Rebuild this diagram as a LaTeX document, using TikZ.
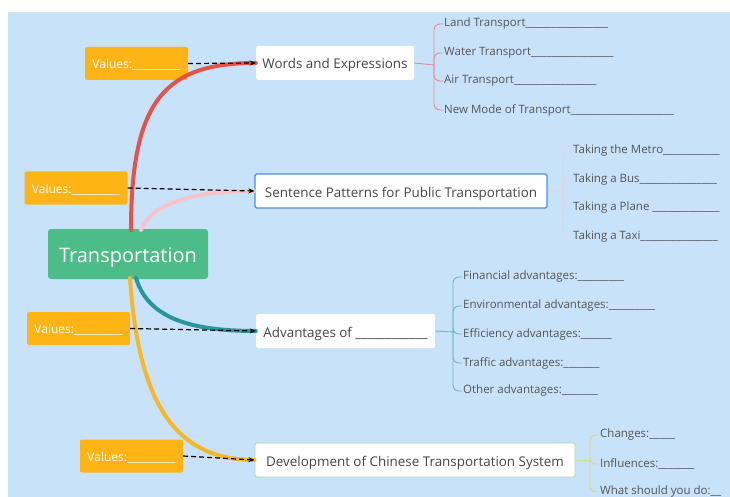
\documentclass[tikz,border=0pt]{standalone}
\usepackage{fontspec}
\setmainfont{Open Sans}
\usetikzlibrary{arrows.meta}
\definecolor{bgblue}{RGB}{200,226,249}
\definecolor{rootgreen}{RGB}{76,189,137}
\definecolor{valorange}{RGB}{255,180,22}
\definecolor{txtgray}{RGB}{70,70,70}
\definecolor{itemgray}{RGB}{85,85,85}
\definecolor{redbr}{RGB}{226,84,74}
\definecolor{pinkbr}{RGB}{246,196,200}
\definecolor{tealbr}{RGB}{40,150,155}
\definecolor{yelbr}{RGB}{246,184,40}
\definecolor{redsub}{RGB}{225,140,150}
\definecolor{pinksub}{RGB}{232,210,222}
\definecolor{tealsub}{RGB}{110,185,195}
\definecolor{yelsub}{RGB}{215,215,120}
\definecolor{boxblue}{RGB}{74,144,217}
\definecolor{boxgreen}{RGB}{170,215,160}
\begin{document}
\begin{tikzpicture}[x=1pt,y=-1pt,
  rootbox/.style={fill=rootgreen,rounded corners=3pt,minimum width=160pt,minimum height=50pt,inner sep=0pt,text=white,text height=17pt,text depth=0pt,font=\fontsize{20}{24}\selectfont},
  valbox/.style={fill=valorange,rounded corners=2pt,minimum width=103pt,minimum height=33pt,inner sep=0pt,text=white,text height=10.6pt,text depth=0pt,font=\fontsize{12}{14}\selectfont},
  topicbox/.style={fill=white,rounded corners=1.5pt,minimum height=34pt,inner sep=0pt,text=txtgray,text height=12pt,text depth=0pt,font=\fontsize{13.4}{16}\selectfont},
  item/.style={anchor=west,inner sep=1pt,text=itemgray,font=\fontsize{11.5}{14}\selectfont},
  branch/.style={line width=4pt,line cap=round},
  valarrow/.style={dash pattern=on 5pt off 3pt,line width=1.2pt,black,-{Stealth[length=6pt,width=5pt]}},
  sub/.style={line width=0.9pt,rounded corners=6pt}
]
\useasboundingbox (0,0) rectangle (730,497);
\clip (0,0) rectangle (730,497);
\fill[white] (0,0) rectangle (730,497);
\fill[bgblue] (8,12) rectangle (730,497);

% root
\node[rootbox] (root) at (128,254) {Transportation};

% topics
\node[topicbox,minimum width=158pt] (t1) at (335,63) {Words and Expressions};
\node[topicbox,minimum width=292pt,draw=boxblue,line width=1.2pt] (t2) at (401,191) {Sentence Patterns for Public Transportation};
\node[topicbox,minimum width=179pt] (t3) at (345.5,331) {Advantages of \_\_\_\_\_\_\_\_\_\_\_\_};
\node[topicbox,minimum width=320pt,draw=boxgreen,line width=0.9pt] (t4) at (415,460) {Development of Chinese Transportation System};

% values
\node[valbox] (v1) at (136.5,63.5) {Values:\_\_\_\_\_\_\_\_\_};
\node[valbox] (v2) at (76,188) {Values:\_\_\_\_\_\_\_\_\_};
\node[valbox] (v3) at (78.5,328.5) {Values:\_\_\_\_\_\_\_\_\_};
\node[valbox] (v4) at (131.5,456) {Values:\_\_\_\_\_\_\_\_\_};

% main branches
\coordinate (r1) at (131,230);
\coordinate (r2) at (141,230);
\coordinate (r3) at (136,278);
\coordinate (r4) at (130,278);
\draw[branch,redbr] (r1) .. controls (131,100) and (165,63) .. (t1.west);
\draw[branch,pinkbr] (r2) .. controls (150,205) and (190,191) .. (t2.west);
\draw[branch,tealbr] (r3) .. controls (148,318) and (190,331) .. (t3.west);
\draw[branch,yelbr] (r4) .. controls (138,395) and (170,460) .. (t4.west);

% value arrows
\draw[valarrow] (v1.east) -- (t1.west);
\draw[valarrow] (v2.east) -- (t2.west);
\draw[valarrow] (v3.east) -- (t3.west);
\draw[valarrow] (v4.east) -- (t4.west);

% items: words
\node[item] (w1) at (443,24) {Land Transport\_\_\_\_\_\_\_\_\_\_\_\_\_\_\_\_};
\node[item] (w2) at (443,53) {Water Transport\_\_\_\_\_\_\_\_\_\_\_\_\_\_\_\_};
\node[item] (w3) at (443,81) {Air Transport\_\_\_\_\_\_\_\_\_\_\_\_\_\_\_\_};
\node[item] (w4) at (443,110) {New Mode of Transport\_\_\_\_\_\_\_\_\_\_\_\_\_\_\_\_\_\_\_\_};
\coordinate (j1) at (434,65);
\draw[sub,redsub] (t1.east) -- (j1);
\foreach \n in {w1,w2,w3,w4} \draw[sub,redsub] (j1) |- (\n.west);

% items: sentence patterns
\node[item] (s1) at (572,151) {Taking the Metro\_\_\_\_\_\_\_\_\_\_\_};
\node[item] (s2) at (572,180) {Taking a Bus\_\_\_\_\_\_\_\_\_\_\_\_\_\_\_};
\node[item] (s3) at (572,208) {Taking a Plane \_\_\_\_\_\_\_\_\_\_\_\_\_};
\node[item] (s4) at (572,237) {Taking a Taxi\_\_\_\_\_\_\_\_\_\_\_\_\_\_\_};
\coordinate (j2) at (563,192);
\draw[sub,pinksub] (t2.east) -- (j2);
\foreach \n in {s1,s2,s3,s4} \draw[sub,pinksub] (j2) |- (\n.west);

% items: advantages
\node[item] (a1) at (462,277) {Financial advantages:\_\_\_\_\_\_\_\_\_};
\node[item] (a2) at (462,306) {Environmental advantages:\_\_\_\_\_\_\_\_\_};
\node[item] (a3) at (462,334) {Efficiency advantages:\_\_\_\_\_\_};
\node[item] (a4) at (462,363) {Traffic advantages:\_\_\_\_\_\_\_};
\node[item] (a5) at (462,391) {Other advantages:\_\_\_\_\_\_\_};
\coordinate (j3) at (453,332);
\draw[sub,tealsub] (t3.east) -- (j3);
\foreach \n in {a1,a2,a3,a4,a5} \draw[sub,tealsub] (j3) |- (\n.west);

% items: development
\node[item] (d1) at (599,435) {Changes:\_\_\_\_\_};
\node[item] (d2) at (599,464) {Influences:\_\_\_\_\_\_\_};
\node[item] (d3) at (599,492) {What should you do:\_\_};
\coordinate (j4) at (590,461);
\draw[sub,yelsub] (t4.east) -- (j4);
\foreach \n in {d1,d2,d3} \draw[sub,yelsub] (j4) |- (\n.west);
\end{tikzpicture}
\end{document}
